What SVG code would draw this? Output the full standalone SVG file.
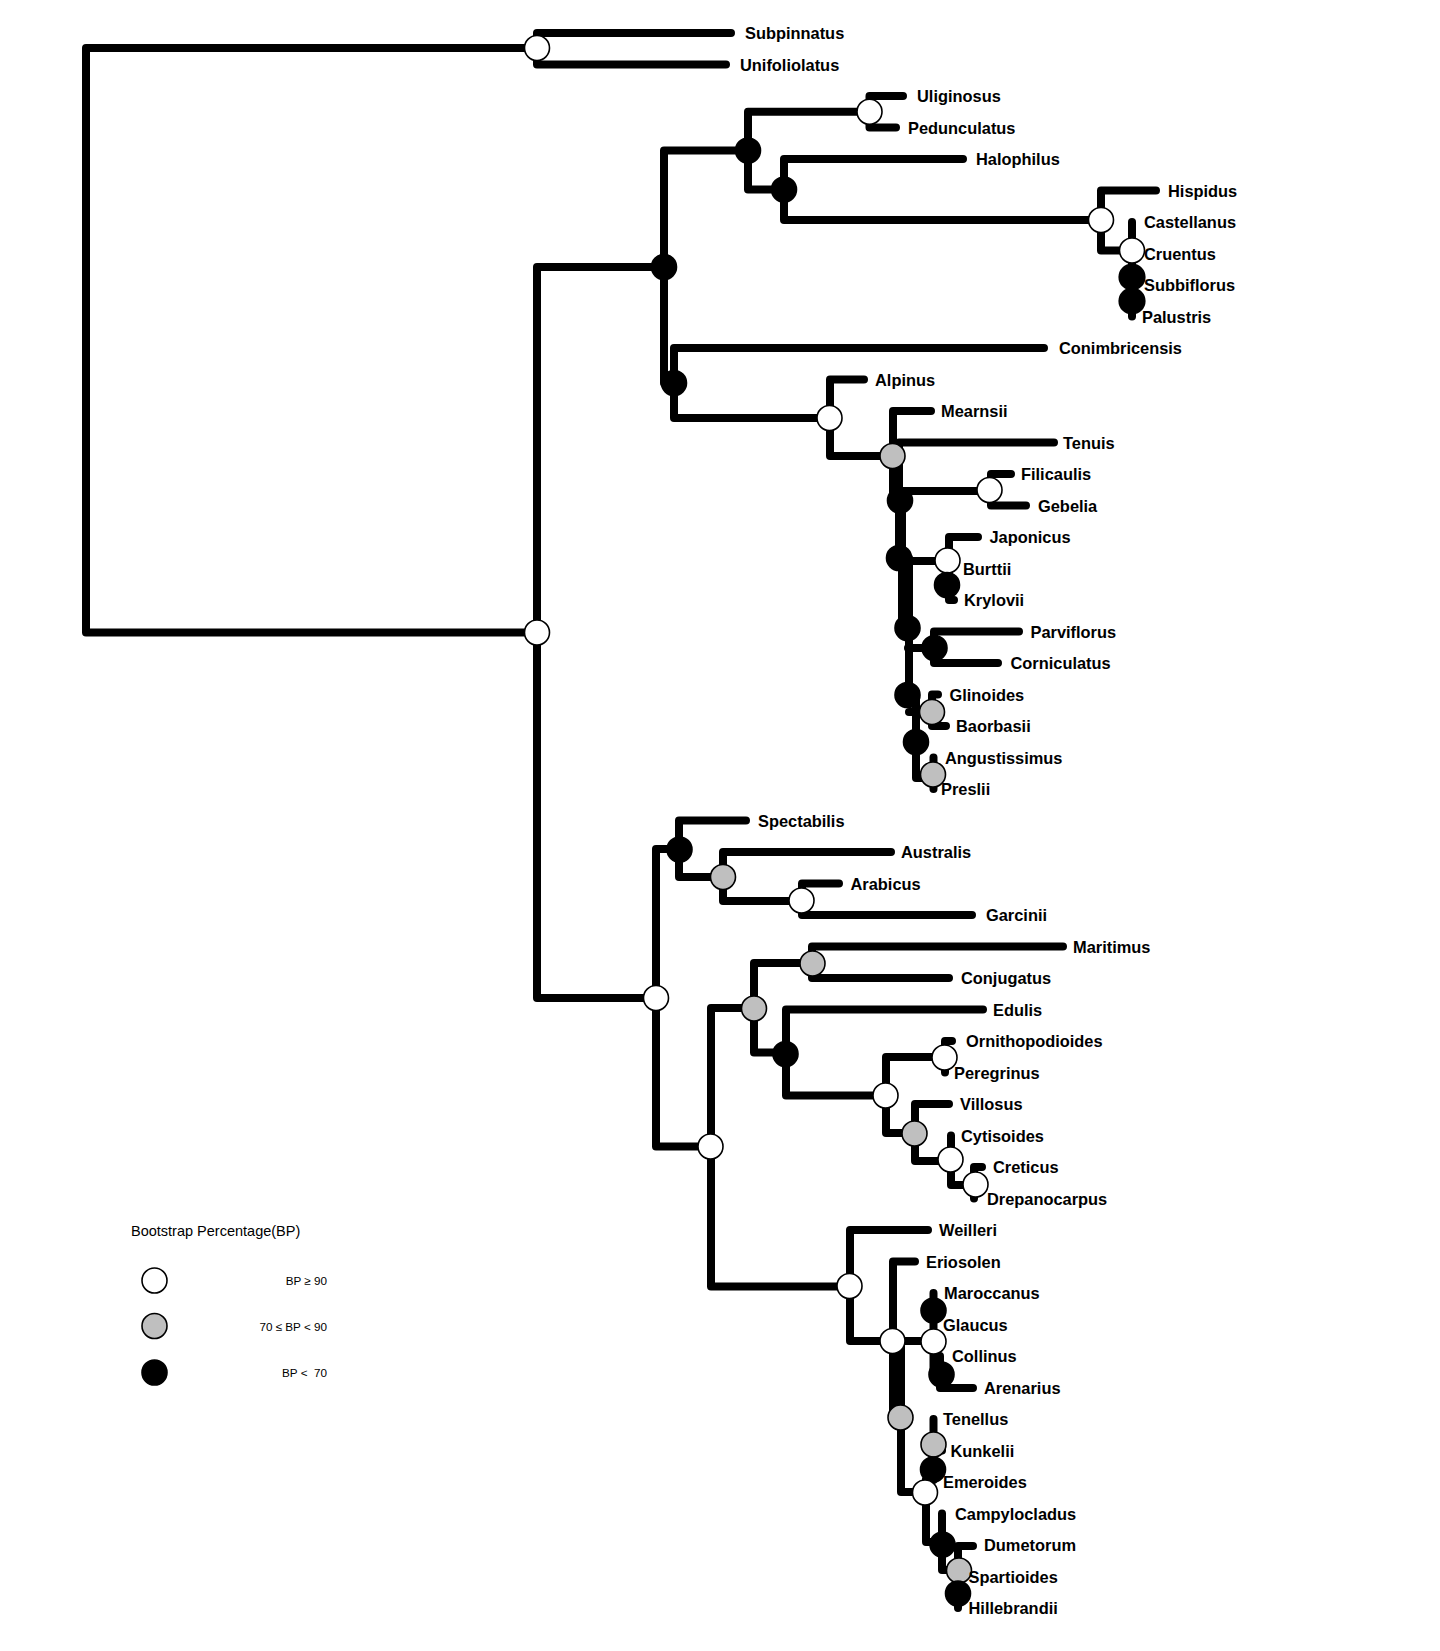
<svg xmlns="http://www.w3.org/2000/svg" width="1440" height="1651" viewBox="0 0 1440 1651">
<style>
.e{fill:none;stroke:#000;stroke-width:8;stroke-linecap:round;stroke-linejoin:round}
.w{fill:#fff;stroke:#000;stroke-width:1.6}
.g{fill:#bfbfbf;stroke:#000;stroke-width:1.6}
.b{fill:#000;stroke:#000;stroke-width:1.6}
.t{font-family:"Liberation Sans",Arial,sans-serif;font-weight:bold;font-size:16.4px;fill:#000}
.lt{font-family:"Liberation Sans",Arial,sans-serif;font-size:14.5px;fill:#000}
.ls{font-family:"Liberation Sans",Arial,sans-serif;font-size:11.7px;fill:#000;text-anchor:end}
</style>
<rect width="1440" height="1651" fill="#fff"/>
<g id="connectors" class="e">
<path d="M537 48H86V632.5H537"/>
<path d="M731 33H537V64.5H726"/>
<path d="M664 267H537V998H656"/>
<path d="M748 150.5H664V383H674"/>
<path d="M869.5 111.75H748V189.5H784"/>
<path d="M903 96H869.5V127.5H896"/>
<path d="M963 159H784V220H1101"/>
<path d="M1156 190.5H1101V250.5H1132"/>
<path d="M1132 222V316.5"/>
<path d="M1044 348H674V418H829.5"/>
<path d="M864 379.5H830V456H892.5"/>
<path d="M931 411H893V500"/>
<path d="M1054 442.5H899V558"/>
<path d="M902 500V628"/>
<path d="M909 558V695"/>
<path d="M900 491H989.5"/>
<path d="M899 561H947.5"/>
<path d="M908 648H934.5"/>
<path d="M909 712H932"/>
<path d="M916 695V778H933"/>
<path d="M1011 474H991V505.5H1026"/>
<path d="M978 537H949V600H954"/>
<path d="M1019 631.5H934V663H998"/>
<path d="M938 694.5H932V726H946"/>
<path d="M933.5 757.5V789"/>
<path d="M679 849H656V1146.5H710.5"/>
<path d="M746 820.5H679V877H723"/>
<path d="M891 852H723V901H802"/>
<path d="M839 883.5H802V915H972"/>
<path d="M754 1008H711V1286.5H850"/>
<path d="M812 963H754V1052.5H786"/>
<path d="M1063 946.5H812V978H949"/>
<path d="M983 1009.5H786V1095.5H886"/>
<path d="M945 1057H886V1133H915"/>
<path d="M952 1041H945V1072.5"/>
<path d="M949 1104H915V1161H951"/>
<path d="M951 1135.5V1185H974"/>
<path d="M982 1167H974V1198.5"/>
<path d="M928 1230H850V1341H893"/>
<path d="M915 1261.5H893V1418"/>
<path d="M893 1341H933.5"/>
<path d="M901 1341V1492H925"/>
<path d="M933.5 1293V1374.5H940"/>
<path d="M940 1356V1388H973"/>
<path d="M933.5 1419V1480H926"/>
<path d="M933.5 1450.5H942"/>
<path d="M926 1480V1542H942"/>
<path d="M942 1513.5V1570H958"/>
<path d="M973 1546H958V1608"/>
</g>
<g id="nodes">
<g id="nA"><circle class="w" cx="537" cy="48" r="12.5"/></g>
<g id="nB"><circle class="w" cx="537" cy="632.5" r="12.5"/></g>
<g id="nC"><circle class="b" cx="664" cy="267" r="12.5"/></g>
<g id="nD"><circle class="b" cx="748" cy="150.5" r="12.5"/></g>
<g id="nF"><circle class="w" cx="869.5" cy="111.75" r="12.5"/></g>
<g id="nE"><circle class="b" cx="784" cy="189.5" r="12.5"/></g>
<g id="nG"><circle class="w" cx="1101" cy="220" r="12.5"/></g>
<g id="nH"><circle class="w" cx="1132" cy="250.5" r="12.5"/></g>
<g id="nI"><circle class="b" cx="1132" cy="277" r="12.8"/></g>
<g id="nJ"><circle class="b" cx="1132" cy="301" r="12.8"/></g>
<g id="nK"><circle class="b" cx="674" cy="383" r="12.5"/></g>
<g id="nL"><circle class="w" cx="829.5" cy="418" r="12.5"/></g>
<g id="nM"><circle class="g" cx="892.5" cy="456" r="12.5"/></g>
<g id="nN"><circle class="b" cx="900" cy="500.5" r="12.5"/></g>
<g id="nO"><circle class="w" cx="989.5" cy="490" r="12.5"/></g>
<g id="nP"><circle class="b" cx="899" cy="558" r="12.5"/></g>
<g id="nQ"><circle class="w" cx="947.5" cy="560.5" r="12.5"/></g>
<g id="nR"><circle class="b" cx="947" cy="585" r="12.5"/></g>
<g id="nS"><circle class="b" cx="907.5" cy="628" r="12.5"/></g>
<g id="nT"><circle class="b" cx="934.5" cy="648" r="12.5"/></g>
<g id="nU"><circle class="b" cx="907.5" cy="695" r="12.5"/></g>
<g id="nV"><circle class="g" cx="932" cy="712" r="12.5"/></g>
<g id="nW"><circle class="b" cx="916" cy="742" r="12.5"/></g>
<g id="nX"><circle class="g" cx="933" cy="774.5" r="12.5"/></g>
<g id="nY"><circle class="w" cx="656" cy="998" r="12.5"/></g>
<g id="nZ"><circle class="b" cx="679.5" cy="849.5" r="12.5"/></g>
<g id="nAB"><circle class="g" cx="723" cy="877" r="12.5"/></g>
<g id="nAC"><circle class="w" cx="801.5" cy="900.5" r="12.5"/></g>
<g id="nAA"><circle class="w" cx="710.5" cy="1146.5" r="12.5"/></g>
<g id="nAE"><circle class="g" cx="754" cy="1008.5" r="12.5"/></g>
<g id="nAD"><circle class="g" cx="812.5" cy="963.5" r="12.5"/></g>
<g id="nAF"><circle class="b" cx="785.5" cy="1054" r="12.5"/></g>
<g id="nAG"><circle class="w" cx="885.5" cy="1095.5" r="12.5"/></g>
<g id="nAH"><circle class="w" cx="944.5" cy="1057.5" r="12.5"/></g>
<g id="nAI"><circle class="g" cx="914.5" cy="1133.5" r="12.5"/></g>
<g id="nAJ"><circle class="w" cx="950.5" cy="1159.5" r="12.5"/></g>
<g id="nAK"><circle class="w" cx="975.5" cy="1184.5" r="12.5"/></g>
<g id="nAL"><circle class="w" cx="849.5" cy="1286" r="12.5"/></g>
<g id="nAM"><circle class="w" cx="892.5" cy="1341" r="12.5"/></g>
<g id="nAO"><circle class="b" cx="933.5" cy="1310.5" r="12.5"/></g>
<g id="nAN"><circle class="w" cx="933.5" cy="1341.5" r="12.5"/></g>
<g id="nAP"><circle class="b" cx="941.5" cy="1374.5" r="12.5"/></g>
<g id="nAQ"><circle class="g" cx="900.5" cy="1417.5" r="12.5"/></g>
<g id="nAR"><circle class="g" cx="933.5" cy="1444.5" r="12.5"/></g>
<g id="nAS"><circle class="b" cx="933" cy="1469.5" r="12.5"/></g>
<g id="nAT"><circle class="w" cx="925" cy="1492.5" r="12.5"/></g>
<g id="nAU"><circle class="b" cx="942.5" cy="1544.5" r="12.5"/></g>
<g id="nAV"><circle class="g" cx="959" cy="1570.5" r="12.5"/></g>
<g id="nAW"><circle class="b" cx="958" cy="1593.5" r="12.5"/></g>
</g>
<g id="leaves" class="t">
<g id="l1"><text x="745" y="39">Subpinnatus</text></g>
<g id="l2"><text x="740" y="70.5">Unifoliolatus</text></g>
<g id="l3"><text x="917" y="102">Uliginosus</text></g>
<g id="l4"><text x="908" y="133.5">Pedunculatus</text></g>
<g id="l5"><text x="976" y="165">Halophilus</text></g>
<g id="l6"><text x="1168" y="196.5">Hispidus</text></g>
<g id="l7"><text x="1144" y="228">Castellanus</text></g>
<g id="l8"><text x="1144" y="259.5">Cruentus</text></g>
<g id="l9"><text x="1144" y="291">Subbiflorus</text></g>
<g id="l10"><text x="1142" y="322.5">Palustris</text></g>
<g id="l11"><text x="1059" y="354">Conimbricensis</text></g>
<g id="l12"><text x="875" y="385.5">Alpinus</text></g>
<g id="l13"><text x="941" y="417">Mearnsii</text></g>
<g id="l14"><text x="1063" y="448.5">Tenuis</text></g>
<g id="l15"><text x="1021" y="480">Filicaulis</text></g>
<g id="l16"><text x="1038" y="511.5">Gebelia</text></g>
<g id="l17"><text x="989.5" y="543">Japonicus</text></g>
<g id="l18"><text x="963" y="574.5">Burttii</text></g>
<g id="l19"><text x="964" y="606">Krylovii</text></g>
<g id="l20"><text x="1030.5" y="637.5">Parviflorus</text></g>
<g id="l21"><text x="1010.5" y="669">Corniculatus</text></g>
<g id="l22"><text x="949.5" y="700.5">Glinoides</text></g>
<g id="l23"><text x="956" y="732">Baorbasii</text></g>
<g id="l24"><text x="945" y="763.5">Angustissimus</text></g>
<g id="l25"><text x="941" y="795">Preslii</text></g>
<g id="l26"><text x="758" y="826.5">Spectabilis</text></g>
<g id="l27"><text x="901" y="858">Australis</text></g>
<g id="l28"><text x="850.5" y="889.5">Arabicus</text></g>
<g id="l29"><text x="986" y="921">Garcinii</text></g>
<g id="l30"><text x="1073" y="952.5">Maritimus</text></g>
<g id="l31"><text x="961" y="984">Conjugatus</text></g>
<g id="l32"><text x="993" y="1015.5">Edulis</text></g>
<g id="l33"><text x="966" y="1047">Ornithopodioides</text></g>
<g id="l34"><text x="954" y="1078.5">Peregrinus</text></g>
<g id="l35"><text x="960" y="1110">Villosus</text></g>
<g id="l36"><text x="961" y="1141.5">Cytisoides</text></g>
<g id="l37"><text x="993" y="1173">Creticus</text></g>
<g id="l38"><text x="987" y="1204.5">Drepanocarpus</text></g>
<g id="l39"><text x="939" y="1236">Weilleri</text></g>
<g id="l40"><text x="926" y="1267.5">Eriosolen</text></g>
<g id="l41"><text x="944" y="1299">Maroccanus</text></g>
<g id="l42"><text x="943" y="1330.5">Glaucus</text></g>
<g id="l43"><text x="952" y="1362">Collinus</text></g>
<g id="l44"><text x="984" y="1393.5">Arenarius</text></g>
<g id="l45"><text x="943" y="1425">Tenellus</text></g>
<g id="l46"><text x="950.5" y="1456.5">Kunkelii</text></g>
<g id="l47"><text x="943" y="1488">Emeroides</text></g>
<g id="l48"><text x="955" y="1519.5">Campylocladus</text></g>
<g id="l49"><text x="984" y="1551">Dumetorum</text></g>
<g id="l50"><text x="968.5" y="1582.5">Spartioides</text></g>
<g id="l51"><text x="968.5" y="1614">Hillebrandii</text></g>
</g>
<g id="legend">
<text class="lt" x="131" y="1235.5">Bootstrap Percentage(BP)</text>
<circle class="w" cx="154.5" cy="1280.5" r="12.5"/>
<circle class="g" cx="154.5" cy="1326" r="12.5"/>
<circle class="b" cx="154.5" cy="1372.5" r="12.5"/>
<text class="ls" x="327" y="1285">BP ≥ 90</text>
<text class="ls" x="327" y="1330.5">70 ≤ BP &lt; 90</text>
<text class="ls" x="327" y="1377" xml:space="preserve">BP &lt;  70</text>
</g>
</svg>
